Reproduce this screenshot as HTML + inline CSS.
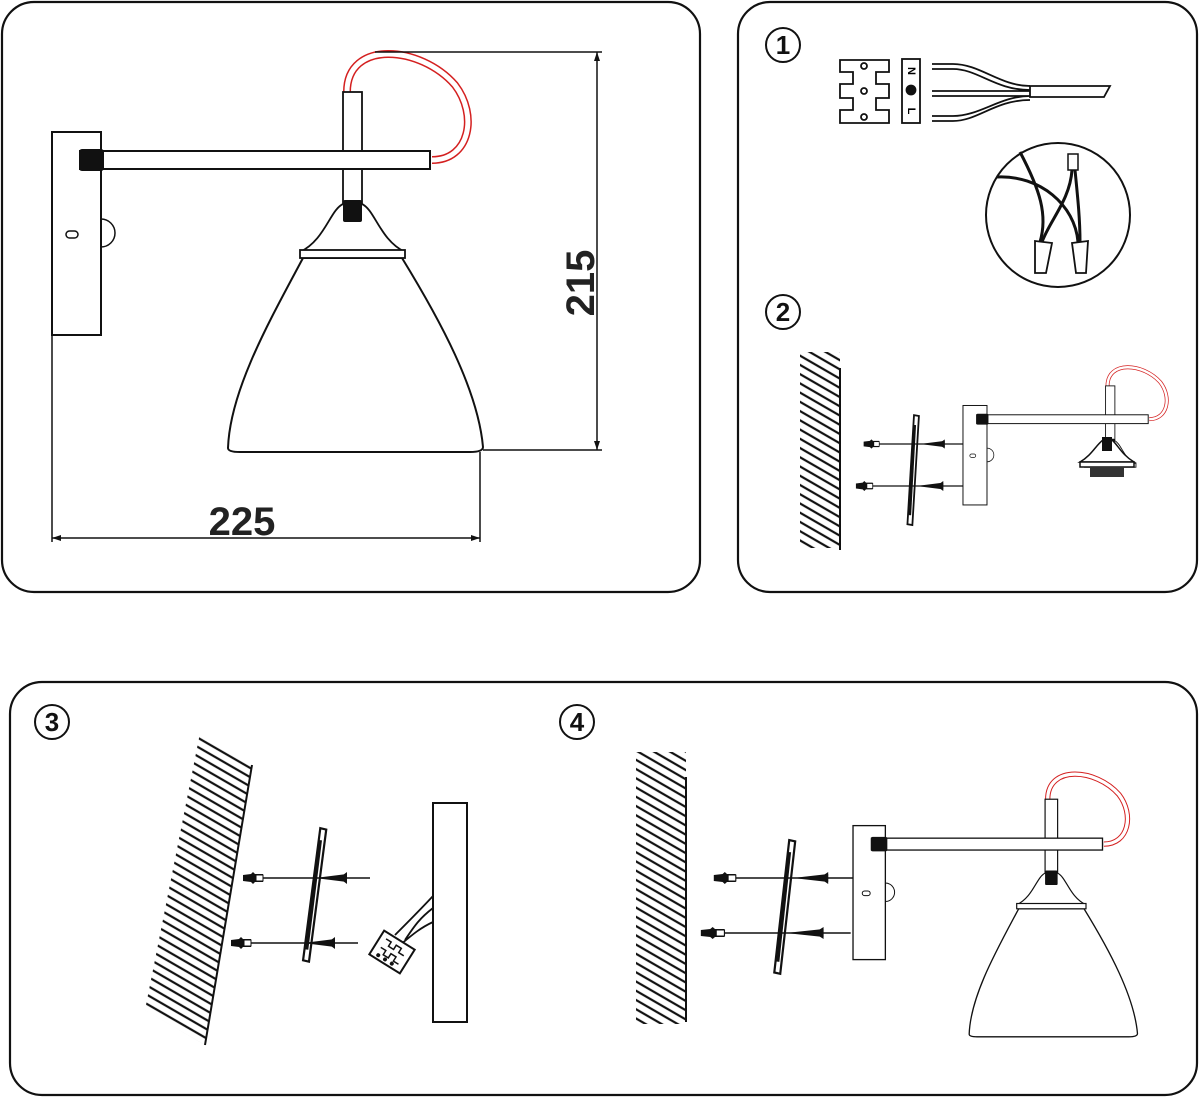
<!DOCTYPE html>
<html><head><meta charset="utf-8"><style>
html,body{margin:0;padding:0;background:#fff;}
svg{display:block;}
text{font-family:"Liberation Sans",sans-serif;}
</style></head><body>
<svg width="1200" height="1098" viewBox="0 0 1200 1098" xmlns="http://www.w3.org/2000/svg">
<defs>
<pattern id="hatch" patternUnits="userSpaceOnUse" width="8" height="8" patternTransform="rotate(30)">
<line x1="0" y1="4" x2="8" y2="4" stroke="#111" stroke-width="2.2"/>
</pattern>
<g id="bracket">
<rect x="52" y="132" width="49" height="203" fill="#fff" stroke="#111" stroke-width="2"/>
<rect x="66" y="231" width="12" height="7" rx="3.5" fill="none" stroke="#111" stroke-width="1.5"/>
<path d="M101 219 A14 14 0 1 1 101 247" fill="none" stroke="#111" stroke-width="1.5"/>
<path d="M347 92 C347 40 420 45 455 85 C478 115 470 160 432 160" fill="none" stroke="#d42020" stroke-width="8"/>
<path d="M347 92 C347 40 420 45 455 85 C478 115 470 160 432 160" fill="none" stroke="#fff" stroke-width="5"/>
<rect x="343" y="92" width="19" height="112" fill="#fff" stroke="#111" stroke-width="1.8"/>
<rect x="80" y="151" width="350" height="18" fill="#fff" stroke="#111" stroke-width="2"/>
<rect x="79" y="149" width="25" height="22" rx="3" fill="#111"/>
<path d="M300 252 C325 240 330 210 343 204 L362 204 C375 210 380 240 405 252 Z" fill="#fff" stroke="#111" stroke-width="1.8"/>
<rect x="343" y="200" width="19" height="22" rx="2" fill="#111"/>
<rect x="300" y="250" width="105" height="8" fill="#fff" stroke="#111" stroke-width="1.8"/>
</g>
<path id="shade" d="M303 258 C270 320 230 390 228 448 Q228 452 240 452 L470 452 Q483 452 483 447 C478 390 440 320 402 258 Z" fill="#fff" stroke="#111" stroke-width="2"/>
<g id="mount">
<polygon points="0,-62 6,-61 -2,72 -8,71" fill="#fff" stroke="#111" stroke-width="2.2"/>
<line x1="1" y1="-50" x2="-5" y2="60" stroke="#111" stroke-width="3"/>
</g>
<g id="screw">
<line x1="0" y1="0" x2="115" y2="0" stroke="#111" stroke-width="1.5"/>
<path d="M-12 -3 L-4 -4 L-2 -6 L0 -4 L8 -4 L8 4 L0 4 L-2 6 L-4 4 L-12 3 Z" fill="#111"/>
<rect x="1" y="-3" width="7" height="6" fill="#fff" stroke="#111" stroke-width="1"/>
<path d="M60 0 L92 -4 L92 4 Z" fill="#111"/>
<path d="M92 -6 L84 0 L92 6 Z" fill="#111"/>
</g>
</defs>

<rect x="2" y="2" width="698" height="590" rx="32" fill="none" stroke="#111" stroke-width="2.2"/>
<rect x="738" y="2" width="459" height="590" rx="32" fill="none" stroke="#111" stroke-width="2.2"/>
<rect x="10" y="682" width="1187" height="413" rx="32" fill="none" stroke="#111" stroke-width="2.2"/>

<use href="#shade"/>
<use href="#bracket"/>
<g stroke="#111" stroke-width="1.5">
<line x1="375" y1="52" x2="602" y2="52"/>
<line x1="483" y1="450" x2="602" y2="450"/>
<line x1="597" y1="52" x2="597" y2="450"/>
<line x1="52" y1="335" x2="52" y2="542"/>
<line x1="480" y1="452" x2="480" y2="542"/>
<line x1="52" y1="538" x2="480" y2="538"/>
</g>
<path d="M597 52 l-3 9 l6 0 Z M597 450 l-3 -9 l6 0 Z M52 538 l9 -3 l0 6 Z M480 538 l-9 -3 l0 6 Z" fill="#111"/>
<text x="242" y="535" font-size="40" font-weight="bold" text-anchor="middle" fill="#222">225</text>
<text x="0" y="0" font-size="40" font-weight="bold" text-anchor="middle" fill="#222" transform="translate(594,283) rotate(-90)">215</text>

<g fill="none" stroke="#111" stroke-width="2">
<circle cx="783" cy="45" r="17"/><circle cx="783" cy="312" r="17"/>
<circle cx="52" cy="722" r="17"/><circle cx="577" cy="722" r="17"/>
</g>
<g font-size="26" font-weight="bold" text-anchor="middle" fill="#111">
<text x="783" y="54">1</text><text x="783" y="321">2</text>
<text x="52" y="731">3</text><text x="577" y="731">4</text>
</g>

<g stroke="#111" stroke-width="1.8" fill="#fff">
<path d="M840 60 L889 60 L889 72 L876 72 L876 84 L889 84 L889 98 L876 98 L876 110 L889 110 L889 123 L840 123 L840 110 L853 110 L853 98 L840 98 L840 84 L853 84 L853 72 L840 72 Z"/>
<circle cx="864" cy="66" r="3"/><circle cx="864" cy="91" r="3"/><circle cx="864" cy="117" r="3"/>
<rect x="902" y="59" width="18" height="64"/>
<circle cx="911" cy="90" r="4.5" fill="#111"/>
<path d="M932 64 L953 64 C980 64 1000 86 1030 86 M932 69 L953 69 C978 69 995 90 1030 90 M932 91 L1030 91 M932 96 L1030 96 M932 116 L953 116 C980 116 1000 96 1030 96 M932 121 L953 121 C978 121 995 100 1030 100" fill="none"/>
<path d="M1030 86 L1110 86 L1104 97 L1030 97 Z"/>
</g>
<text x="911" y="74" font-size="11" font-weight="bold" text-anchor="middle" font-family="Liberation Serif" transform="rotate(90 911 71)">N</text>
<text x="911" y="114" font-size="11" font-weight="bold" text-anchor="middle" font-family="Liberation Serif" transform="rotate(90 911 111)">L</text>
<ellipse cx="1058" cy="215" rx="72" ry="72" fill="none" stroke="#111" stroke-width="2"/>
<g stroke="#111" stroke-width="3" fill="none">
<path d="M1020 152 C1040 190 1048 215 1040 242"/>
<path d="M997 177 C1040 175 1075 205 1078 242"/>
<path d="M1072 170 C1070 200 1050 220 1042 242"/>
<path d="M1075 170 C1078 200 1080 220 1080 242"/>
</g>
<rect x="1068" y="154" width="10" height="16" fill="#fff" stroke="#111" stroke-width="1.5"/>
<path d="M1035 241 L1052 243 L1046 273 L1035 273 Z M1072 243 L1088 241 L1086 273 L1076 273 Z" fill="#fff" stroke="#111" stroke-width="1.8"/>

<rect x="800" y="352" width="40" height="196" fill="url(#hatch)"/>
<line x1="840" y1="368" x2="840" y2="550" stroke="#111" stroke-width="2"/>
<use href="#mount" transform="translate(914,466) scale(0.82)"/>
<use href="#screw" transform="translate(873,444) scale(0.78)"/>
<use href="#screw" transform="translate(866,486) scale(0.84)"/>
<g transform="translate(937.5,340.8) scale(0.49)"><use href="#bracket"/></g>
<path d="M1080 462 C1092 455 1096 445 1103 440 L1112 440 C1118 445 1122 455 1134 462 Z" fill="#fff" stroke="#111" stroke-width="1.5"/>
<rect x="1080" y="462" width="54" height="5" fill="#fff" stroke="#111" stroke-width="1.5"/>
<rect x="1090" y="467" width="34" height="10" fill="#333"/>
<rect x="1102" y="437" width="10" height="14" fill="#111"/>

<polygon points="200,733 252,765 205,1045 145,1010" fill="url(#hatch)"/>
<line x1="252" y1="765" x2="205" y2="1045" stroke="#111" stroke-width="2"/>
<use href="#mount" transform="translate(316,890) rotate(4)"/>
<use href="#screw" transform="translate(255,878)"/>
<use href="#screw" transform="translate(243,943)"/>
<rect x="433" y="803" width="34" height="219" fill="#fff" stroke="#111" stroke-width="2"/>
<g stroke="#111" stroke-width="1.8" fill="none">
<path d="M433 896 C420 910 410 920 395 935 M433 908 C420 918 415 925 405 940 M433 922 C420 928 412 935 400 945"/>
</g>
<g transform="translate(392,952) rotate(32)">
<rect x="-18" y="-14" width="36" height="28" fill="#fff" stroke="#111" stroke-width="2"/>
<path d="M-12 -8 h6 v5 h6 v-5 h6 v5 h6 M-12 2 h6 v5 h6 v-5 h6 v5 h6" fill="none" stroke="#111" stroke-width="1.5"/>
<circle cx="-10" cy="10" r="2" fill="#111"/><circle cx="-2" cy="10" r="2" fill="#111"/><circle cx="6" cy="10" r="2" fill="#111"/>
</g>

<rect x="636" y="752" width="50" height="272" fill="url(#hatch)"/>
<line x1="686" y1="777" x2="686" y2="1022" stroke="#111" stroke-width="2"/>
<use href="#mount" transform="translate(786,902) rotate(3)"/>
<use href="#screw" transform="translate(727,878) scale(1.1 1)"/>
<use href="#screw" transform="translate(715,933) scale(1.18 1)"/>
<g transform="translate(818.7,738.5) scale(0.66)"><use href="#shade"/><use href="#bracket"/></g>
</svg>
</body></html>
